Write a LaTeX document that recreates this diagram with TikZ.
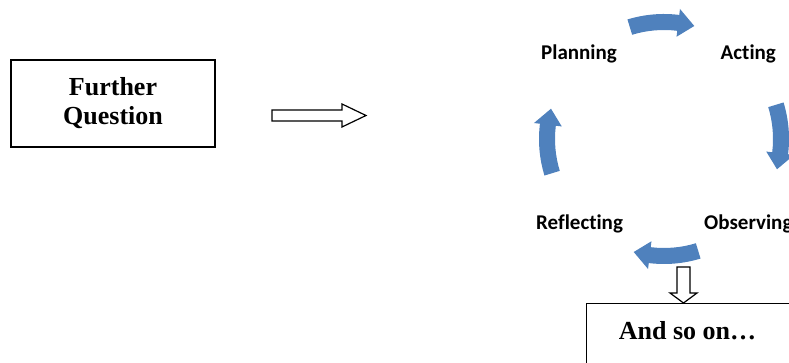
\documentclass[tikz,border=0pt]{standalone}
\usepackage{fontspec}
\setmainfont{Liberation Serif}
\newfontfamily\carlito[Ligatures=NoCommon]{Carlito}
\definecolor{cycblue}{HTML}{4F81BD}
\tikzset{
  qbox/.style={draw, line width=1.2pt, font=\bfseries\fontsize{26}{29}\selectfont, align=center, inner sep=0pt},
  steplabel/.style={font=\carlito\bfseries\fontsize{21}{24}\selectfont, inner sep=0pt},
  hollow/.style={draw, line width=1.2pt, fill=white},
  cyc/.style={fill=cycblue}
}
% curved block arrow of the cycle, running clockwise from #1 to #2 (degrees)
\newcommand{\cycarrow}[2]{%
  \pgfmathsetmacro{\hb}{#2+8}%
  \fill[cyc] (#1:125) arc[start angle=#1, end angle=\hb, radius=125pt]
    -- (\hb:131) -- (#2:117) -- (\hb:103) -- (\hb:109)
    arc[start angle=\hb, end angle=#1, radius=109pt] -- cycle;}
\begin{document}
\begin{tikzpicture}[x=1pt,y=1pt]
\useasboundingbox (0,0) rectangle (789,363);

% starting question
\node[qbox, minimum width=204pt, minimum height=87pt] (fq) at (113,259.5) {Further\\Question};

% hollow arrow towards the cycle
\draw[hollow] (272,253) -- (342,253) -- (342,259) -- (366,247.5) -- (342,236)
  -- (342,242) -- (272,242) -- cycle;

% the four stages
\node[steplabel, anchor=base west] (plan) at (541,303) {Planning};
\node[steplabel, anchor=base west] (act) at (720.5,303) {Acting};
\node[steplabel, anchor=base west] (refl) at (536,133) {Reflecting};
\node[steplabel, anchor=base west] (obs) at (704,133) {Observing};

% cycle arrows
\begin{scope}[shift={(664,224)}]
  \cycarrow{107}{75}
  \cycarrow{17}{-15}
  \cycarrow{-73}{-105}
  \cycarrow{197}{165}
\end{scope}

% hollow arrow down to the last box
\draw[hollow] (677,96) -- (690,96) -- (690,70) -- (697,70) -- (683.5,60)
  -- (670,70) -- (677,70) -- cycle;

% closing box, running past the page edge
\node[draw, line width=1.2pt, anchor=north west, minimum width=210pt, minimum height=66pt, inner sep=0pt] (more) at (586,60) {};
\node[font=\bfseries\fontsize{26}{29}\selectfont, anchor=base, inner sep=0pt] (moretext) at (687.5,23) {And so on…};
\end{tikzpicture}
\end{document}
